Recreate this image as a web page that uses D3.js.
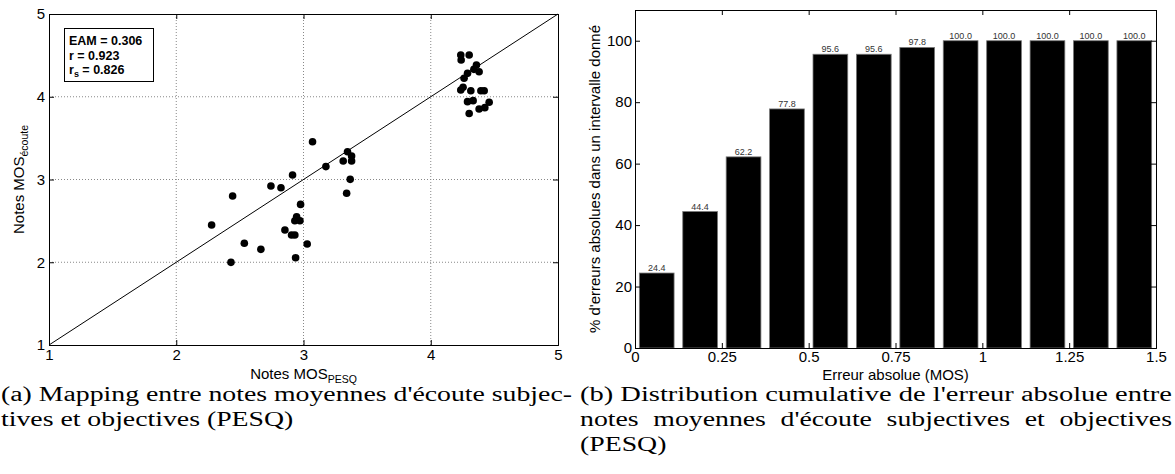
<!DOCTYPE html>
<html>
<head>
<meta charset="utf-8">
<script src="https://cdn.jsdelivr.net/npm/d3@7"></script>
<style>
  html, body { margin: 0; padding: 0; background: #fff; }
  svg { display: block; }
  .ax { font-family: "Liberation Sans", Arial, sans-serif; }
  .cap { font-family: "Liberation Serif", "DejaVu Serif", serif; }
</style>
</head>
<body>
<svg id="chart" width="1175" height="474"></svg>
<script>
// ---------- data (a): scatter PESQ vs listening MOS ----------
const pesqScores = [4.236, 4.302, 4.239, 4.359, 4.380, 4.339, 4.289, 4.262, 4.236, 4.254,
  4.315, 4.394, 4.420, 4.289, 4.333, 4.459, 4.380, 4.425, 4.302,
  3.071, 3.346, 3.378, 3.312, 3.378, 3.176, 2.914, 2.744, 2.823, 3.367, 3.339, 2.443,
  2.977, 2.946, 2.932, 2.972, 2.278, 2.854, 2.906, 2.932, 2.535, 2.665, 3.029, 2.938, 2.430];
const ecouteScores = [4.505, 4.505, 4.444, 4.384, 4.303, 4.331, 4.283, 4.223, 4.082, 4.114,
  4.073, 4.073, 4.073, 3.941, 3.953, 3.933, 3.852, 3.868, 3.798,
  3.457, 3.336, 3.284, 3.224, 3.224, 3.156, 3.054, 2.921, 2.901, 3.002, 2.833, 2.801,
  2.699, 2.550, 2.502, 2.502, 2.450, 2.390, 2.329, 2.329, 2.229, 2.156, 2.221, 2.055, 1.999];
const mosTicks = [1, 2, 3, 4, 5];
const statsLabels = ["EAM = 0.306", "r = 0.923", "0.826"];

// ---------- data (b): cumulative distribution of absolute error ----------
const errorBins = [0.0625, 0.1875, 0.3125, 0.4375, 0.5625, 0.6875, 0.8125, 0.9375, 1.0625, 1.1875, 1.3125, 1.4375];
const cumulativePct = [24.4, 44.4, 62.2, 77.8, 95.6, 95.6, 97.8, 100.0, 100.0, 100.0, 100.0, 100.0];
const errorTicks = [0, 0.25, 0.5, 0.75, 1, 1.25, 1.5];
const errorTickLabels = ["0", "0.25", "0.5", "0.75", "1", "1.25", "1.5"];
const pctTicks = [0, 20, 40, 60, 80, 100];
const barWidthUnits = 0.1;

const svg = d3.select("#chart");
const TICK_FS = 15, TITLE_FS = 15;

// ================= Panel (a) =================
const xa = d3.scaleLinear().domain([1, 5]).range([49, 558]);
const ya = d3.scaleLinear().domain([1, 5]).range([345, 14]);
const ga = svg.append("g").attr("class", "ax");

const gridTicks = mosTicks.slice(1, -1);
ga.selectAll("line.gx").data(gridTicks).join("line")
  .attr("x1", d => xa(d)).attr("x2", d => xa(d))
  .attr("y1", ya(1)).attr("y2", ya(5))
  .attr("stroke", "#888").attr("stroke-width", 1).attr("stroke-dasharray", "1,2");
ga.selectAll("line.gy").data(gridTicks).join("line")
  .attr("y1", d => ya(d)).attr("y2", d => ya(d))
  .attr("x1", xa(1)).attr("x2", xa(5))
  .attr("stroke", "#888").attr("stroke-width", 1).attr("stroke-dasharray", "1,2");

ga.append("g").attr("transform", `translate(0,${ya(1)})`)
  .call(d3.axisBottom(xa).tickValues(mosTicks).tickSize(-5).tickPadding(4).tickFormat(d3.format("d")));
ga.append("g").attr("transform", `translate(${xa(1)},0)`)
  .call(d3.axisLeft(ya).tickValues(mosTicks).tickSize(-5).tickPadding(4).tickFormat(d3.format("d")));
ga.append("g").attr("transform", `translate(0,${ya(5)})`)
  .call(d3.axisTop(xa).tickValues(mosTicks).tickSize(-5).tickFormat(""));
ga.append("g").attr("transform", `translate(${xa(5)},0)`)
  .call(d3.axisRight(ya).tickValues(mosTicks).tickSize(-5).tickFormat(""));
ga.selectAll(".domain").attr("stroke", "#000");
ga.selectAll(".tick line").attr("stroke", "#000");
ga.selectAll(".tick text").attr("font-size", TICK_FS).attr("fill", "#000")
  .attr("font-family", "Liberation Sans, Arial, sans-serif");

ga.append("line")
  .attr("x1", xa(1)).attr("y1", ya(1)).attr("x2", xa(5)).attr("y2", ya(5))
  .attr("stroke", "#000").attr("stroke-width", 1);

ga.selectAll("circle.pt").data(pesqScores.map((p, i) => [p, ecouteScores[i]])).join("circle")
  .attr("cx", d => xa(d[0])).attr("cy", d => ya(d[1])).attr("r", 3.8).attr("fill", "#000");

// stats box
ga.append("rect").attr("x", 64.5).attr("y", 28.5).attr("width", 89).attr("height", 53)
  .attr("fill", "#fff").attr("stroke", "#000").attr("stroke-width", 1);
ga.append("text").attr("x", 69).attr("y", 44.5).attr("font-size", 12.5).attr("font-weight", "bold").text(statsLabels[0]);
ga.append("text").attr("x", 69).attr("y", 59.5).attr("font-size", 12.5).attr("font-weight", "bold").text(statsLabels[1]);
const rsText = ga.append("text").attr("x", 69).attr("y", 73.5).attr("font-size", 12.5).attr("font-weight", "bold");
rsText.append("tspan").text("r");
rsText.append("tspan").attr("font-size", 9).attr("dy", 3).text("s");
rsText.append("tspan").attr("dy", -3).text(" = " + statsLabels[2]);

// axis titles
const xta = ga.append("text").attr("x", (xa(1) + xa(5)) / 2).attr("y", 379).attr("text-anchor", "middle").attr("font-size", TITLE_FS);
xta.append("tspan").text("Notes MOS");
xta.append("tspan").attr("font-size", 10.5).attr("dy", 4).text("PESQ");
const yta = ga.append("text").attr("transform", `translate(24,${(ya(1) + ya(5)) / 2}) rotate(-90)`)
  .attr("text-anchor", "middle").attr("font-size", TITLE_FS);
yta.append("tspan").text("Notes MOS");
yta.append("tspan").attr("font-size", 10.5).attr("dy", 4).text("écoute");

// ================= Panel (b) =================
const xb = d3.scaleLinear().domain([0, 1.5]).range([635, 1156]);
const yb = d3.scaleLinear().domain([0, 110]).range([348, 10]);
const gb = svg.append("g").attr("class", "ax");

gb.selectAll("rect.bar").data(cumulativePct).join("rect")
  .attr("x", (d, i) => xb(errorBins[i] - barWidthUnits / 2))
  .attr("width", (d, i) => xb(errorBins[i] + barWidthUnits / 2) - xb(errorBins[i] - barWidthUnits / 2))
  .attr("y", d => yb(d)).attr("height", d => yb(0) - yb(d))
  .attr("fill", "#000").attr("stroke", "#777").attr("stroke-width", 0.8);

gb.selectAll("text.bl").data(cumulativePct).join("text")
  .attr("x", (d, i) => xb(errorBins[i])).attr("y", d => yb(d) - 2)
  .attr("text-anchor", "middle").attr("font-size", 9).attr("fill", "#333")
  .text(d => d.toFixed(1));

gb.append("g").attr("transform", `translate(0,${yb(0)})`)
  .call(d3.axisBottom(xb).tickValues(errorTicks).tickSize(-5).tickPadding(3).tickFormat((d, i) => errorTickLabels[i]));
gb.append("g").attr("transform", `translate(${xb(0)},0)`)
  .call(d3.axisLeft(yb).tickValues(pctTicks).tickSize(-5).tickPadding(3).tickFormat(d3.format("d")));
gb.append("g").attr("transform", `translate(0,${yb(110)})`)
  .call(d3.axisTop(xb).tickValues(errorTicks).tickSize(-5).tickFormat(""));
gb.append("g").attr("transform", `translate(${xb(1.5)},0)`)
  .call(d3.axisRight(yb).tickValues(pctTicks).tickSize(-5).tickFormat(""));
gb.selectAll(".domain").attr("stroke", "#000");
gb.selectAll(".tick line").attr("stroke", "#000");
gb.selectAll(".tick text").attr("font-size", TICK_FS).attr("fill", "#000")
  .attr("font-family", "Liberation Sans, Arial, sans-serif");

gb.append("text").attr("x", (xb(0) + xb(1.5)) / 2).attr("y", 380).attr("text-anchor", "middle")
  .attr("font-size", TITLE_FS).text("Erreur absolue (MOS)");
gb.append("text").attr("transform", `translate(600,${(yb(0) + yb(110)) / 2}) rotate(-90)`)
  .attr("text-anchor", "middle").attr("font-size", TITLE_FS)
  .text("% d'erreurs absolues dans un intervalle donné");

// ================= Captions =================
const cap = svg.append("g").attr("class", "cap").attr("font-size", 20).attr("fill", "#000");
function capLine(x, y, str) {
  return cap.append("text").attr("x", x).attr("y", y).text(str);
}
const a1 = capLine(1, 401, "(a) Mapping entre notes moyennes d'écoute subjec-");
const a2 = capLine(1, 426, "tives et objectives (PESQ)");
const b1 = capLine(580, 401, "(b) Distribution cumulative de l'erreur absolue entre");
const b2 = capLine(580, 426, "notes moyennes d'écoute subjectives et objectives");
const b3 = capLine(580, 451, "(PESQ)");

// horizontal stretch so the serif glyphs match the wide TeX fonts
const wA1 = a1.node().getComputedTextLength();
const stretch = 571 / wA1;
a1.attr("textLength", 571).attr("lengthAdjust", "spacingAndGlyphs");
[a2, b3].forEach(t => {
  const w = t.node().getComputedTextLength();
  t.attr("textLength", w * stretch).attr("lengthAdjust", "spacingAndGlyphs");
});
const wB1 = b1.node().getComputedTextLength();
b1.attr("textLength", 592).attr("lengthAdjust", "spacingAndGlyphs");
// justified line: widen word gaps, then stretch glyphs
const wB2 = b2.node().getComputedTextLength();
const gaps = 5;
const extra = (592 / stretch - wB2) / gaps;
b2.style("word-spacing", extra + "px");
const wB2b = b2.node().getComputedTextLength();
b2.attr("textLength", 592).attr("lengthAdjust", "spacingAndGlyphs");
</script>
</body>
</html>
